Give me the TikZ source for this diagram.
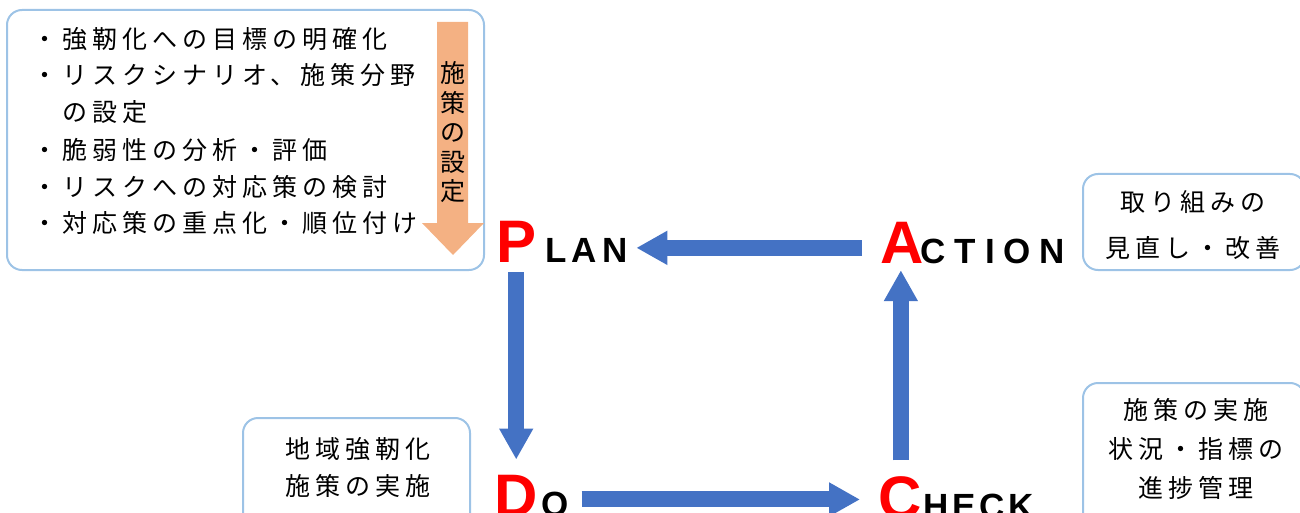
\documentclass[tikz,border=0pt]{standalone}
\usepackage{fontspec}
\setmainfont{Noto Sans CJK JP}
\newfontfamily\pdcafont{Liberation Sans}
\usepackage{tikz}
\usetikzlibrary{positioning}
\usetikzlibrary{arrows.meta,calc}

\definecolor{arrowblue}{HTML}{4472C4}
\definecolor{boxblue}{HTML}{9DC3E6}
\definecolor{steporange}{HTML}{F4B183}
\definecolor{pdcared}{HTML}{FF0000}

\tikzset{
	memo/.style={draw=boxblue, line width=2pt, rounded corners=15pt},
	jline/.style={inner sep=0pt, anchor=west, text height=20pt, text depth=1pt, font=\fontsize{25}{25}\selectfont\addfontfeatures{LetterSpace=20}},
	jchar/.style={inner sep=0pt, text height=20pt, text depth=1pt, font=\fontsize{25}{25}\selectfont},
	jblock/.style={inner sep=0pt, align=center},
	big/.style={inner sep=0pt, anchor=base west, text=pdcared, font=\pdcafont\bfseries\fontsize{60}{60}\selectfont},
	small/.style={inner sep=0pt, anchor=base west, font=\pdcafont\bfseries\fontsize{35}{35}\selectfont},
	flow/.style={draw=arrowblue, line width=16pt, -{Triangle[length=31pt,width=32pt]}},
}

\begin{document}
\begin{tikzpicture}[x=1pt,y=-1pt]
		%\draw[gray,step=50] (0,0) grid (1300,513);
		\useasboundingbox (0,0) rectangle (1300,513);
		% plan box
		\node[memo, minimum width=477pt, minimum height=260pt] (planbox) at (245.5,140) {};
		\node[jline] (l1) at (32,39) {・強靭化への目標の明確化};
		\node[jline] (l2) at (32,75) {・リスクシナリオ、施策分野};
		\node[jline] (l3) at (62,112) {の設定};
		\node[jline] (l4) at (32,150) {・脆弱性の分析・評価};
		\node[jline] (l5) at (32,187) {・リスクへの対応策の検討};
		\node[jline] (l6) at (32,223) {・対応策の重点化・順位付け};
		\fill[steporange] (437,22) -- (468,22) -- (468,223) -- (484,223) -- (453,255) -- (422,223) -- (437,223) -- cycle;
		\foreach \c [count=\i from 0] in {施,策,の,設,定}
			\node[jchar] (v\i) at (453,73.5+29.4*\i) {\c};
		% other boxes
		\node[memo, minimum width=222pt, minimum height=96pt] (actbox) at (1194,222) {};
		\node[jblock, font=\fontsize{25}{46}\selectfont\addfontfeatures{LetterSpace=20}] (acttext) at (1193,225) {取り組みの\\見直し・改善};
		\node[memo, minimum width=222pt, minimum height=160pt] (checkbox) at (1194,463) {};
		\node[jblock, font=\fontsize{25}{39}\selectfont\addfontfeatures{LetterSpace=20}] (checktext) at (1196,449) {施策の実施\\状況・指標の\\進捗管理};
		\node[memo, minimum width=227pt, minimum height=140pt] (dobox) at (356.5,488) {};
		\node[jblock, font=\fontsize{25}{37}\selectfont\addfontfeatures{LetterSpace=20}] (dotext) at (358,467) {地域強靭化\\施策の実施};
		% PDCA
		\node[big] (P) at (496,262) {P};
		\node[small, xshift=8.4pt] (LAN) at (P.base east) {\addfontfeatures{LetterSpace=16}LAN};
		\node[big] (A) at (880,263) {A};
		\node[small, xshift=-3pt] (CTION) at (A.base east) {\addfontfeatures{LetterSpace=25}CTION};
		\node[big] (D) at (494.5,516) {D};
		\node[small, xshift=2.8pt] (O) at (D.base east) {O};
		\node[big] (C) at (878,518) {C};
		\node[small, xshift=1.1pt] (HECK) at (C.base east) {\addfontfeatures{LetterSpace=11.5}HECK};
		\draw[flow] ($(A.west)+(-18,5.5)$) -- ($(A.west -| LAN.east)+(8,5.5)$);
		\draw[flow] ($(P.south)+(0,10)$) -- ($(P.south |- D.north)+(0,-15)$);
		\draw[flow] ($(O.east)+(13,-4.5)$) -- ($(O.east -| C.west)+(-18,-4.5)$);
		\draw[flow] ($(C.north)+(1,-15.5)$) -- ($(C.north |- A.south)+(1,7)$);
	\end{tikzpicture}
\end{document}
